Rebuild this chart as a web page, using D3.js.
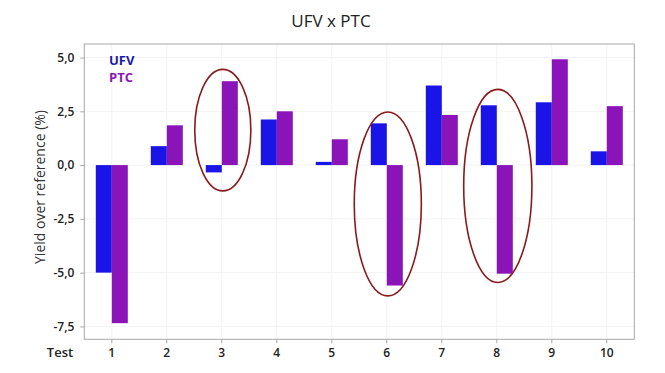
<!DOCTYPE html>
<html><head><meta charset="utf-8">
<script src="https://cdn.jsdelivr.net/npm/d3@7"></script>
<style>body{margin:0;background:#fff}svg{display:block}text{font-family:"Open Sans","Noto Sans",sans-serif}</style>
</head><body><svg id="c" width="665" height="373"></svg>
<script>
const tests = ["1","2","3","4","5","6","7","8","9","10"];
const seriesNames = ["UFV","PTC"];
const ufv = [-5.0, 0.88, -0.34, 2.12, 0.15, 1.94, 3.7, 2.78, 2.92, 0.64];
const ptc = [-7.35, 1.85, 3.9, 2.5, 1.2, -5.6, 2.33, -5.05, 4.92, 2.74];
const yTicks = [-7.5, -5.0, -2.5, 0.0, 2.5, 5.0];
const annTests = ["3","6","8"];
const annTop = [4.45, 2.47, 3.52];
const annBottom = [-1.2, -6.08, -5.46];
const annHalfWidth = [0.51, 0.61, 0.62]; // in band steps

const colors = {UFV:"#1a14e6", PTC:"#8a14b8"};
const svg = d3.select("#c");
const L=84.3, R=634.3, T=44, B=339.3;

const x = d3.scaleBand().domain(tests).range([L,R]).paddingInner(0.418).paddingOuter(0.209);
const xs = d3.scaleBand().domain(seriesNames).range([0,x.bandwidth()]);
const y = d3.scaleLinear().domain([-8.1,5.63]).range([B,T]);
const step = x.step();

// gridlines
svg.append("g").selectAll("line").data(tests).join("line")
  .attr("x1",d=>x(d)+x.bandwidth()/2).attr("x2",d=>x(d)+x.bandwidth()/2)
  .attr("y1",T).attr("y2",B).attr("stroke","#f3f3f3");
svg.append("g").selectAll("line").data(yTicks).join("line")
  .attr("x1",L).attr("x2",R).attr("y1",d=>y(d)).attr("y2",d=>y(d)).attr("stroke","#f3f3f3");

// bars
const rows = tests.map((t,i)=>({t, UFV:ufv[i], PTC:ptc[i]}));
const g = svg.append("g");
seriesNames.forEach(s=>{
  g.selectAll(null).data(rows).join("rect")
    .attr("x",d=>x(d.t)+xs(s))
    .attr("width",xs.bandwidth())
    .attr("y",d=>y(Math.max(0,d[s])))
    .attr("height",d=>Math.abs(y(d[s])-y(0)))
    .attr("fill",colors[s]);
});

// frame
svg.append("rect").attr("x",L).attr("y",T).attr("width",R-L).attr("height",B-T)
  .attr("fill","none").attr("stroke","#a8a8a8").attr("stroke-width",1);

const fmt = v => d3.format(".1f")(v).replace(".",",").replace("\u2212","-");

// y axis
const ya = svg.append("g").attr("transform",`translate(${L},0)`)
  .call(d3.axisLeft(y).tickValues(yTicks).tickFormat(fmt).tickSize(4).tickPadding(6));
ya.select(".domain").remove();
ya.selectAll("line").attr("stroke","#a8a8a8");
ya.selectAll("text").attr("font-size",12).attr("font-weight",600).attr("fill","#222");

// x axis
const xa = svg.append("g").attr("transform",`translate(0,${B})`)
  .call(d3.axisBottom(x).tickSize(4).tickPadding(5));
xa.select(".domain").remove();
xa.selectAll("line").attr("stroke","#a8a8a8");
xa.selectAll("text").attr("font-size",12).attr("font-weight",600).attr("fill","#222");

svg.append("text").attr("x",60).attr("y",357).attr("text-anchor","middle")
  .attr("font-size",13).attr("font-weight",600).attr("fill","#222").text("Test");

// title
svg.append("text").attr("x",331).attr("y",27).attr("text-anchor","middle")
  .attr("font-size",17).attr("fill","#222").text("UFV x PTC");

// y label
svg.append("text").attr("transform","translate(45,187) rotate(-90)").attr("text-anchor","middle")
  .attr("font-size",14).attr("fill","#333").text("Yield over reference (%)");

// legend
seriesNames.forEach((s,i)=>{
  svg.append("text").attr("x",109).attr("y",65+i*17).attr("font-size",13).attr("font-weight",700)
    .attr("fill",s==="UFV"?"#1c1aa8":"#8a1ab0").text(s);
});

// annotations
annTests.forEach((t,i)=>{
  const cx = x(t)+x.bandwidth()/2 + 1;
  svg.append("ellipse").attr("cx",cx)
    .attr("cy",(y(annTop[i])+y(annBottom[i]))/2)
    .attr("rx",annHalfWidth[i]*step)
    .attr("ry",(y(annBottom[i])-y(annTop[i]))/2)
    .attr("fill","none").attr("stroke","#8b1a1a").attr("stroke-width",1.6);
});
</script></body></html>
